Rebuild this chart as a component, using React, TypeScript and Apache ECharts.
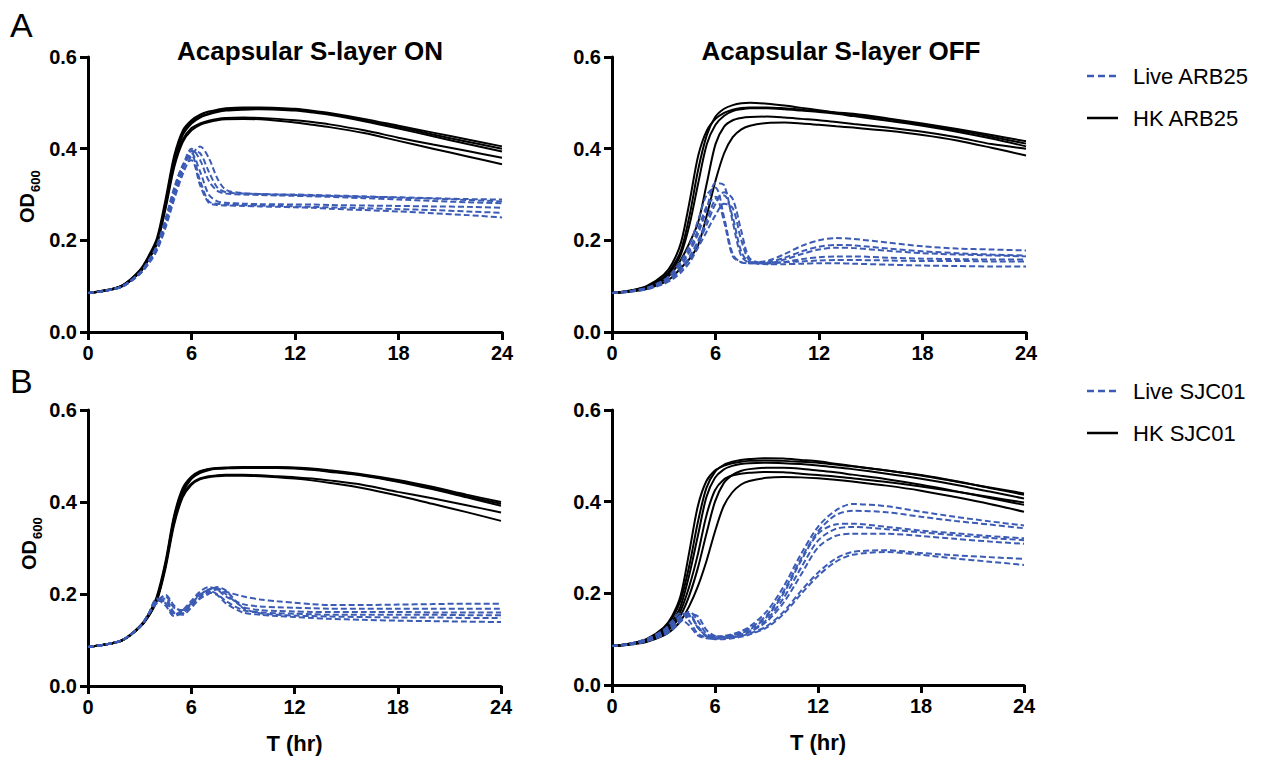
import React, { useEffect, useRef } from "react";
import * as echarts from "echarts";

// time points (hr)
const T = [0, 1, 2, 3, 3.5, 4, 4.5, 5, 5.5, 6, 6.5, 7, 7.5, 8, 9, 10, 11, 12, 13, 14, 16, 18, 20, 22, 24];

const xTicks = [0, 6, 12, 18, 24];
const yTicks = [0, 0.2, 0.4, 0.6];

const panelTitles = ["Acapsular S-layer ON", "Acapsular S-layer OFF", "", ""];
const legendTop = ["Live ARB25", "HK ARB25"];
const legendBottom = ["Live SJC01", "HK SJC01"];

// A – S-layer ON, heat-killed ARB25
const hkArbOn = [
  [.085,.091,.102,.135,.165,.205,.29,.385,.44,.462,.474,.481,.485,.488,.490,.490,.489,.487,.483,.478,.465,.450,.435,.420,.405],
  [.085,.091,.102,.133,.162,.200,.283,.378,.435,.458,.470,.477,.482,.485,.487,.488,.487,.485,.481,.476,.462,.447,.431,.415,.400],
  [.085,.090,.100,.130,.158,.195,.275,.370,.430,.455,.468,.475,.480,.483,.485,.486,.485,.483,.479,.474,.460,.444,.427,.410,.394],
  [.085,.090,.101,.132,.160,.198,.278,.368,.420,.445,.455,.461,.465,.467,.468,.467,.465,.462,.458,.453,.440,.424,.409,.395,.380],
  [.085,.090,.100,.130,.157,.193,.270,.360,.415,.440,.452,.458,.462,.464,.465,.464,.461,.457,.452,.447,.434,.417,.400,.383,.366],
];
// A – S-layer ON, live ARB25
const liveArbOn = [
  [.085,.090,.099,.126,.148,.178,.228,.290,.345,.385,.405,.380,.335,.310,.303,.301,.300,.300,.299,.298,.296,.293,.291,.288,.285],
  [.085,.090,.099,.127,.150,.182,.235,.298,.355,.395,.390,.350,.315,.305,.302,.301,.300,.299,.298,.297,.295,.294,.292,.290,.289],
  [.085,.090,.100,.128,.152,.185,.240,.305,.362,.400,.375,.330,.308,.302,.300,.299,.298,.297,.296,.295,.292,.289,.286,.283,.281],
  [.085,.090,.100,.128,.152,.184,.238,.302,.358,.390,.350,.300,.285,.282,.280,.279,.279,.278,.278,.277,.276,.275,.274,.273,.271],
  [.085,.090,.100,.129,.154,.188,.245,.312,.365,.385,.330,.285,.280,.278,.277,.276,.275,.274,.273,.272,.270,.268,.266,.263,.260],
  [.085,.090,.100,.129,.155,.190,.248,.315,.362,.375,.320,.282,.277,.276,.275,.274,.273,.272,.271,.269,.266,.263,.259,.255,.250],
];
// A – S-layer OFF, heat-killed ARB25
const hkArbOff = [
  [.085,.090,.100,.125,.150,.195,.285,.385,.440,.465,.478,.485,.489,.490,.490,.488,.485,.482,.478,.474,.464,.452,.440,.426,.411],
  [.085,.090,.099,.120,.142,.178,.255,.355,.430,.470,.487,.495,.499,.500,.498,.494,.489,.484,.479,.476,.466,.455,.443,.430,.416],
  [.085,.089,.097,.117,.137,.170,.235,.325,.410,.452,.472,.482,.486,.488,.488,.486,.483,.480,.476,.471,.461,.450,.437,.422,.405],
  [.085,.089,.096,.113,.130,.158,.195,.240,.325,.410,.448,.462,.467,.469,.470,.468,.465,.462,.458,.454,.446,.437,.425,.410,.400],
  [.085,.088,.094,.108,.120,.140,.160,.190,.255,.330,.390,.425,.442,.450,.456,.457,.455,.452,.449,.446,.439,.430,.418,.402,.385],
];
// A – S-layer OFF, live ARB25
const liveArbOff = [
  [.085,.089,.095,.110,.125,.145,.175,.215,.270,.325,.320,.240,.165,.152,.155,.170,.188,.200,.205,.203,.195,.187,.182,.180,.178],
  [.085,.089,.096,.113,.130,.155,.190,.245,.300,.315,.250,.170,.152,.150,.152,.162,.176,.186,.190,.189,.182,.176,.172,.169,.167],
  [.085,.088,.094,.107,.118,.135,.160,.195,.235,.280,.305,.290,.220,.160,.150,.158,.170,.180,.184,.183,.177,.172,.169,.167,.165],
  [.085,.088,.094,.108,.120,.138,.165,.200,.245,.290,.298,.250,.175,.152,.150,.153,.159,.163,.165,.165,.162,.160,.159,.158,.158],
  [.085,.089,.096,.112,.128,.150,.180,.225,.275,.295,.240,.165,.152,.150,.150,.152,.154,.156,.157,.157,.156,.155,.155,.154,.154],
  [.085,.088,.093,.105,.115,.130,.152,.185,.220,.255,.280,.270,.200,.155,.148,.148,.149,.150,.150,.149,.147,.145,.144,.143,.143],
];
// B – S-layer ON, heat-killed SJC01
const hkSjcOn = [
  [.085,.090,.100,.130,.155,.195,.270,.370,.430,.455,.467,.472,.474,.475,.476,.476,.476,.475,.473,.469,.460,.448,.433,.416,.400],
  [.085,.090,.100,.128,.153,.190,.265,.365,.425,.452,.465,.471,.473,.474,.475,.475,.475,.474,.471,.467,.458,.445,.430,.413,.396],
  [.085,.090,.099,.127,.151,.187,.260,.360,.420,.450,.463,.469,.472,.473,.474,.474,.474,.473,.470,.466,.457,.444,.428,.410,.392],
  [.085,.090,.099,.128,.152,.188,.262,.355,.415,.440,.451,.456,.458,.459,.459,.458,.456,.454,.451,.447,.437,.422,.408,.393,.377],
  [.085,.090,.099,.127,.150,.185,.255,.350,.410,.437,.449,.454,.456,.457,.457,.456,.454,.451,.447,.442,.430,.414,.396,.378,.359],
];
// B – S-layer ON, live SJC01
const liveSjcOn = [
  [.085,.090,.100,.128,.155,.185,.195,.170,.165,.180,.198,.210,.212,.205,.195,.188,.184,.181,.178,.176,.176,.177,.178,.179,.179],
  [.085,.090,.100,.128,.155,.190,.180,.155,.165,.185,.205,.215,.210,.195,.178,.173,.171,.170,.169,.168,.168,.168,.168,.168,.168],
  [.085,.090,.100,.128,.155,.182,.198,.175,.160,.175,.190,.200,.210,.200,.172,.165,.163,.162,.161,.161,.161,.161,.160,.160,.160],
  [.085,.090,.100,.128,.155,.188,.175,.152,.160,.180,.200,.207,.200,.185,.165,.160,.158,.157,.156,.155,.155,.155,.155,.154,.154],
  [.085,.090,.100,.128,.155,.180,.190,.160,.155,.170,.190,.205,.215,.208,.170,.158,.155,.153,.152,.151,.150,.149,.149,.148,.148],
  [.085,.090,.100,.128,.155,.185,.185,.158,.158,.178,.195,.203,.198,.180,.160,.155,.152,.150,.148,.146,.144,.142,.141,.140,.139],
];
// B – S-layer OFF, heat-killed SJC01
const hkSjcOff = [
  [.085,.090,.100,.125,.150,.195,.290,.390,.445,.468,.478,.484,.487,.489,.490,.489,.487,.485,.481,.477,.468,.457,.444,.431,.418],
  [.085,.090,.099,.122,.145,.185,.260,.355,.430,.465,.480,.487,.491,.493,.495,.494,.491,.488,.483,.478,.468,.458,.445,.430,.415],
  [.085,.089,.098,.118,.138,.172,.240,.325,.410,.452,.470,.478,.482,.484,.485,.484,.482,.479,.475,.471,.461,.450,.437,.422,.407],
  [.085,.089,.097,.115,.132,.162,.215,.285,.370,.425,.448,.457,.461,.463,.465,.464,.461,.458,.455,.451,.443,.433,.422,.410,.398],
  [.085,.089,.096,.112,.127,.152,.195,.255,.330,.400,.440,.458,.467,.471,.474,.474,.472,.468,.464,.459,.449,.437,.423,.408,.393],
  [.085,.088,.094,.108,.120,.140,.172,.215,.270,.335,.390,.420,.437,.445,.452,.454,.453,.451,.448,.444,.435,.424,.410,.395,.378],
];
// B – S-layer OFF, live SJC01
const liveSjcOff = [
  [.085,.090,.100,.120,.140,.158,.140,.112,.105,.105,.107,.111,.117,.127,.160,.215,.285,.345,.380,.395,.390,.378,.367,.357,.348],
  [.085,.090,.100,.118,.135,.152,.155,.125,.108,.105,.106,.109,.114,.123,.152,.205,.275,.335,.370,.380,.377,.367,.358,.350,.342],
  [.085,.089,.098,.115,.130,.148,.160,.140,.112,.106,.106,.108,.113,.120,.148,.200,.270,.330,.350,.352,.345,.337,.331,.325,.320],
  [.085,.089,.097,.113,.128,.145,.152,.125,.107,.103,.104,.106,.110,.117,.142,.190,.255,.315,.340,.345,.340,.333,.327,.321,.316],
  [.085,.089,.096,.110,.123,.140,.155,.150,.120,.107,.105,.106,.109,.115,.138,.180,.240,.300,.325,.330,.330,.325,.319,.313,.308],
  [.085,.089,.096,.111,.125,.143,.130,.108,.102,.101,.102,.104,.107,.112,.128,.160,.205,.245,.275,.290,.294,.288,.283,.279,.275],
  [.085,.088,.095,.108,.120,.138,.150,.128,.106,.100,.100,.102,.105,.110,.125,.155,.198,.238,.268,.284,.290,.284,.276,.269,.262],
];

const BLUE = "#3B5BB5";
const FONT = "'Liberation Sans', Arial, Helvetica, sans-serif";

export default function App() {
  const ref = useRef<HTMLDivElement>(null);

  useEffect(() => {
    if (!ref.current) return;
    const chart = echarts.init(ref.current, null, { renderer: "svg", width: 1262, height: 762 });

    const grids = [
      { left: 88, top: 57, width: 414, height: 275 },
      { left: 612, top: 57, width: 414, height: 275 },
      { left: 88, top: 410, width: 413, height: 276 },
      { left: 612, top: 410, width: 412, height: 275 },
    ];

    const panels = [
      { hk: hkArbOn, live: liveArbOn, names: legendTop },
      { hk: hkArbOff, live: liveArbOff, names: legendTop },
      { hk: hkSjcOn, live: liveSjcOn, names: legendBottom },
      { hk: hkSjcOff, live: liveSjcOff, names: legendBottom },
    ];

    const axisLine = { show: true, onZero: false, lineStyle: { color: "#000", width: 3 } };
    const axisTick = { show: true, inside: false, length: 8, lineStyle: { color: "#000", width: 3 } };
    const labelStyle = { color: "#000", fontSize: 20, fontWeight: "bold" as const, fontFamily: FONT };

    const xAxis = grids.map((_, i) => ({
      type: "value" as const,
      gridIndex: i,
      min: xTicks[0],
      max: xTicks[xTicks.length - 1],
      interval: 6,
      axisLine,
      axisTick,
      splitLine: { show: false },
      axisLabel: { ...labelStyle, margin: 11, showMinLabel: true, showMaxLabel: true },
      name: i >= 2 ? "T (hr)" : "",
      nameLocation: "middle" as const,
      nameGap: 46,
      nameTextStyle: { color: "#000", fontSize: 22, fontWeight: "bold" as const, fontFamily: FONT },
    }));

    const yAxis = grids.map((_, i) => ({
      type: "value" as const,
      gridIndex: i,
      min: yTicks[0],
      max: yTicks[yTicks.length - 1],
      interval: 0.2,
      axisLine,
      axisTick,
      splitLine: { show: false },
      axisLabel: { ...labelStyle, margin: 11, formatter: (v: number) => v.toFixed(1) },
    }));

    const series: any[] = [];
    panels.forEach((p, i) => {
      p.hk.forEach((vals) => {
        series.push({
          type: "line",
          name: p.names[1],
          xAxisIndex: i,
          yAxisIndex: i,
          data: T.map((t, j) => [t, vals[j]]),
          showSymbol: false,
          symbol: "none",
          smooth: 0.3,
          silent: true,
          z: 2,
          lineStyle: { color: "#000", width: 2 },
        });
      });
      p.live.forEach((vals) => {
        series.push({
          type: "line",
          name: p.names[0],
          xAxisIndex: i,
          yAxisIndex: i,
          data: T.map((t, j) => [t, vals[j]]),
          showSymbol: false,
          symbol: "none",
          smooth: 0.3,
          silent: true,
          z: 3,
          lineStyle: { color: BLUE, width: 2, type: [6, 3] },
        });
      });
    });

    const odLabel = (cx: number, cy: number) => ({
      type: "group",
      x: cx,
      y: cy,
      rotation: Math.PI / 2,
      children: [
        {
          type: "text",
          x: 2,
          y: 0,
          style: { text: "OD", font: `bold 20px ${FONT}`, fill: "#000", align: "right", verticalAlign: "middle" },
        },
        {
          type: "text",
          x: 3,
          y: 8,
          style: { text: "600", font: `bold 13px ${FONT}`, fill: "#000", align: "left", verticalAlign: "middle" },
        },
      ],
    });

    const legendItem = (y: number, label: string, dashed: boolean) => [
      {
        type: "line",
        shape: { x1: 1087, y1: y, x2: 1118, y2: y },
        style: { stroke: dashed ? BLUE : "#000", lineWidth: 2.5, lineDash: dashed ? [7, 4] : null },
      },
      {
        type: "text",
        x: 1133,
        y,
        style: { text: label, font: `22px ${FONT}`, fill: "#000", align: "left", verticalAlign: "middle" },
      },
    ];

    const graphic: any[] = [
      { type: "text", x: 10, y: 25, style: { text: "A", font: `34px ${FONT}`, fill: "#000", align: "left", verticalAlign: "middle" } },
      { type: "text", x: 10, y: 381, style: { text: "B", font: `34px ${FONT}`, fill: "#000", align: "left", verticalAlign: "middle" } },
      { type: "text", x: 310, y: 51, style: { text: panelTitles[0], font: `bold 26px ${FONT}`, fill: "#000", align: "center", verticalAlign: "middle" } },
      { type: "text", x: 841, y: 51, style: { text: panelTitles[1], font: `bold 26px ${FONT}`, fill: "#000", align: "center", verticalAlign: "middle" } },
      odLabel(27, 195),
      odLabel(29, 542),
      ...legendItem(76, legendTop[0], true),
      ...legendItem(118, legendTop[1], false),
      ...legendItem(391, legendBottom[0], true),
      ...legendItem(433, legendBottom[1], false),
    ];

    chart.setOption({
      animation: false,
      backgroundColor: "#fff",
      grid: grids.map((g) => ({ ...g, containLabel: false })),
      xAxis,
      yAxis,
      series,
      graphic,
    });

    return () => chart.dispose();
  }, []);

  return (
    <div
      ref={ref}
      style={{ position: "absolute", left: 0, top: 0, width: 1262, height: 762, background: "#fff" }}
    />
  );
}
